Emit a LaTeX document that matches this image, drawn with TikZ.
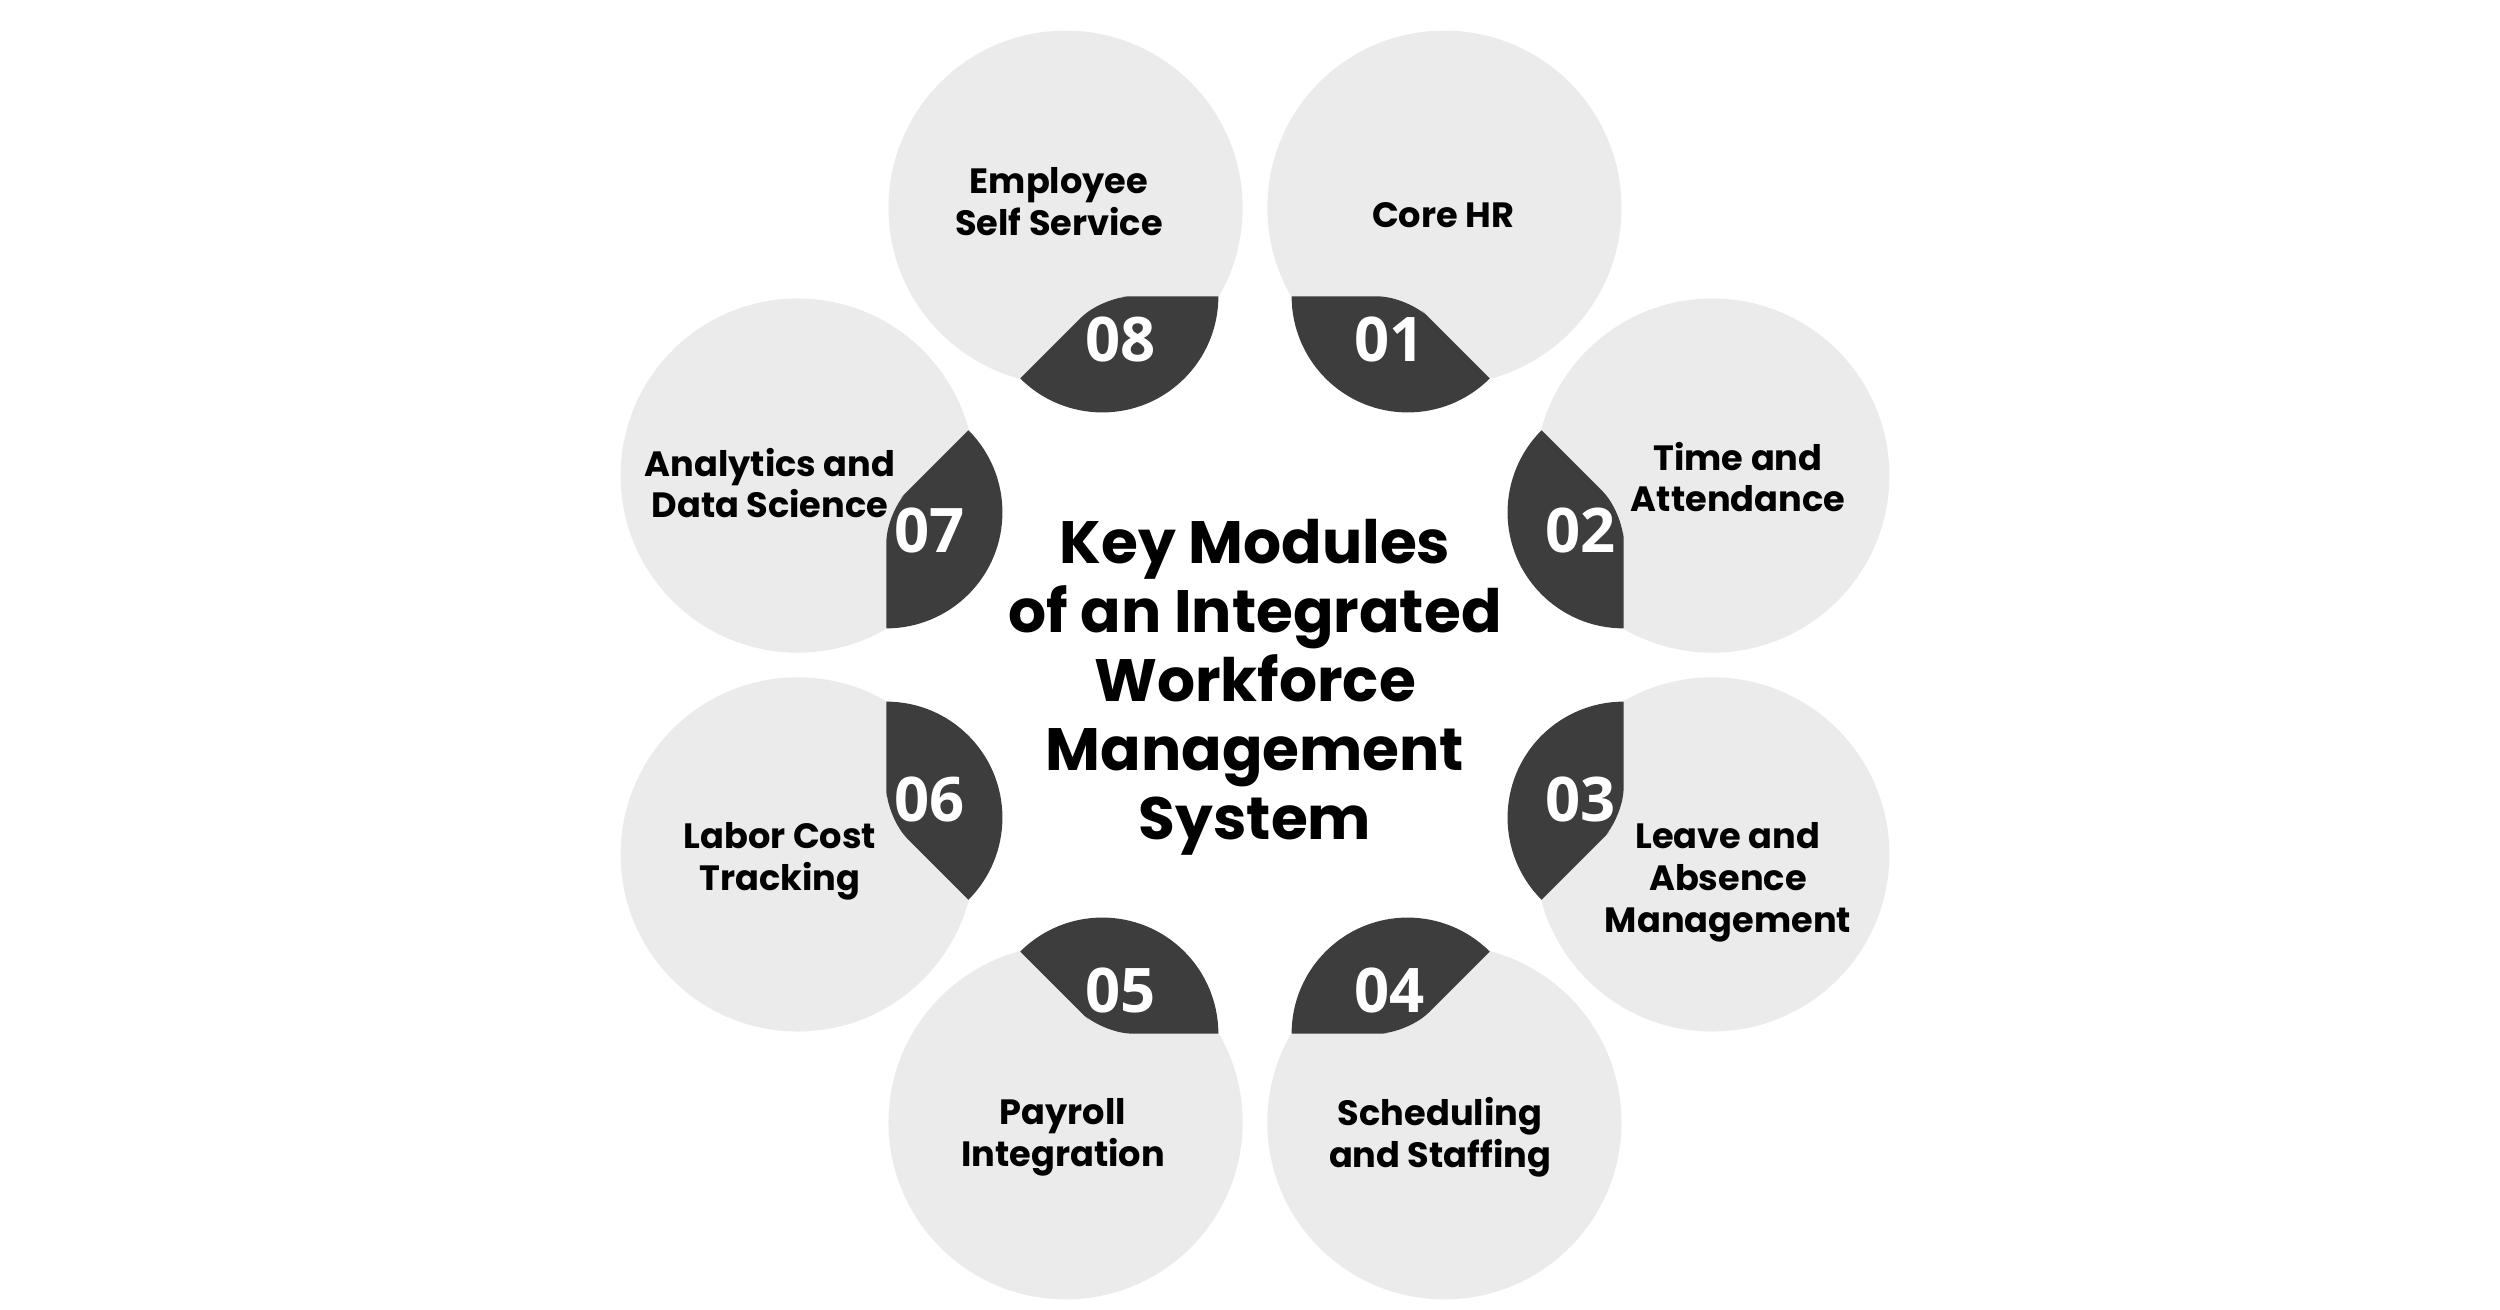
\documentclass[tikz,border=0pt]{standalone}
\usepackage{fontspec}
\setmainfont{Poppins}
\newfontfamily\numfont{Open Sans}
\usetikzlibrary{positioning}
\definecolor{discbg}{HTML}{EBEBEB}
\definecolor{tabc}{HTML}{3D3D3D}
\definecolor{inkc}{HTML}{000000}
\tikzset{
  disc/.style={circle,fill=discbg,minimum size=3.54cm,inner sep=0pt},
  lbl/.style={align=center,text=inkc,font=\bfseries\fontsize{10}{11.9}\selectfont},
  num/.style={text=white,font=\numfont\bfseries\fontsize{17.5}{17.5}\selectfont},
  ttl/.style={align=center,text=inkc,font=\bfseries\fontsize{17}{19.6}\selectfont}
}

\begin{document}
\begin{tikzpicture}[x=0.01cm,y=0.01cm]
\useasboundingbox (-1255,-644) rectangle (1245,665);
% eight module discs round the centre
\foreach \a/\lx/\ly/\txt [count=\i] in {
  67.5/188/450/{Core HR},
  22.5/483/188/{Time and\\Attendance},
  -22.5/473/-217/{Leave and\\Absence\\Management},
  -67.5/185/-472/{Scheduling\\and Staffing},
  -112.5/-192/-472/{Payroll\\Integration},
  -157.5/-475/-196/{Labor Cost\\Tracking},
  157.5/-485/182/{Analytics and\\Data Science},
  112.5/-196/463/{Employee\\Self Service}} {
  \node[disc] (c\i) at (\a:495) {};
  % dark tab facing the centre
  \begin{scope}[shift={(\a:399)},rotate={\a+180}]
    \fill[tabc] (-67.5:0.5cm) [rounded corners=3mm] -- (0,0) -- (67.5:0.5cm) [sharp corners]
      -- (67.5:1.16cm) arc[start angle=67.5,end angle=-67.5,radius=1.16cm] -- cycle;
  \end{scope}
  \node[num] (n\i) at (\a:352) {0\i};
  \node[lbl] (l\i) at (\lx,\ly) {\txt};
}
\node[ttl] (title) at (0,-22) {Key Modules\\of an Integrated\\Workforce\\Management\\System};
\end{tikzpicture}
\end{document}
